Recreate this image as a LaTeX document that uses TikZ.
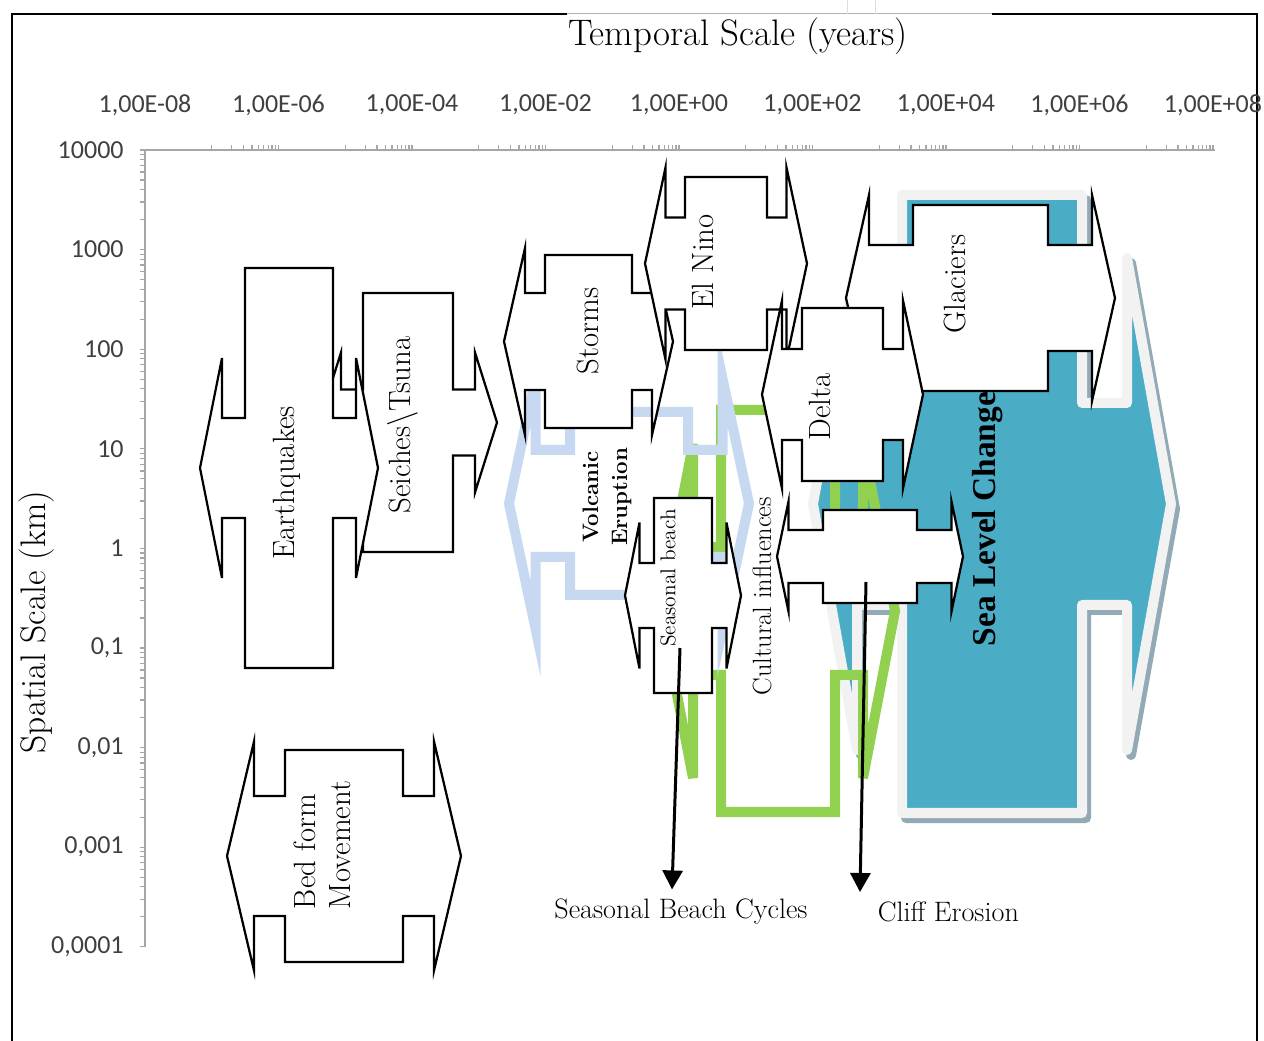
\documentclass[tikz,border=0pt]{standalone}
\usepackage{fontspec}
\usetikzlibrary{arrows.meta,calc}
\newfontfamily\axisfont{Carlito}
\newfontfamily\timesfont{Liberation Serif}
\definecolor{sealevel}{HTML}{4BACC6}
\definecolor{seagrey}{HTML}{F2F2F2}
\definecolor{seashadow}{HTML}{91AAB6}
\definecolor{volcano}{HTML}{C6D9F1}
\definecolor{culture}{HTML}{92D050}
\definecolor{axisgrey}{HTML}{A6A6A6}
\definecolor{ticktext}{HTML}{404040}
% callout with an arrow on each side:
% style, cx, cy, box half width, box half height, arm half height, arm reach, head half height, tip reach
\newcommand{\callout}[9]{%
  \draw[#1] ({#2-#4},{#3-#5}) -- ({#2+#4},{#3-#5}) -- ({#2+#4},{#3-#6}) -- ({#2+#7},{#3-#6})
    -- ({#2+#7},{#3-#8}) -- ({#2+#9},#3) -- ({#2+#7},{#3+#8}) -- ({#2+#7},{#3+#6})
    -- ({#2+#4},{#3+#6}) -- ({#2+#4},{#3+#5}) -- ({#2-#4},{#3+#5}) -- ({#2-#4},{#3+#6})
    -- ({#2-#7},{#3+#6}) -- ({#2-#7},{#3+#8}) -- ({#2-#9},#3) -- ({#2-#7},{#3-#8})
    -- ({#2-#7},{#3-#6}) -- ({#2-#4},{#3-#6}) -- cycle;}

\begin{document}
\begin{tikzpicture}[x=0.2mm, y=-0.2mm,
    frame/.style={line width=0.4mm, black},
    axis/.style={draw=axisgrey, line width=0.25mm},
    ticklbl/.style={font=\axisfont\fontsize{14.8}{17}\selectfont, text=ticktext, inner sep=0pt},
    title/.style={font=\fontsize{21}{24}\selectfont, inner sep=0pt},
    whitebox/.style={draw=black, fill=white, line width=0.45mm},
    seafill/.style={fill=sealevel, draw=seagrey, line width=2mm, line join=round},
    seashade/.style={fill=seashadow, draw=seashadow, line width=2mm, line join=round},
    volcline/.style={draw=volcano, line width=2mm},
    cultline/.style={draw=culture, line width=2mm},
    boxlbl/.style={rotate=90, font=\fontsize{17.5}{20}\selectfont, inner sep=0pt},
    lbl/.style={font=\fontsize{16}{19}\selectfont, inner sep=2pt},
    pointer/.style={line width=0.6mm, -{Triangle[length=3.8mm, width=4mm]}}]
  \useasboundingbox (0,0) rectangle (1264,1041);
  \fill[white] (0,0) rectangle (1264,1041);

  % frame
  \draw[frame] (12,1041) -- (12,14) -- (567,14);
  \draw[gray!60, line width=0.2mm] (567,14) -- (992,14);
  \draw[frame] (992,14) -- (1257,14) -- (1257,1041);
  \draw[gray!25, line width=0.2mm] (847,0) -- (847,14) (875,0) -- (875,14);

  % axes
  \draw[axis] (145,947) -- (145,150) -- (1215,150);
  \draw[axis] (140,150) -- (145,150);
  \foreach \j in {0,...,7}
    \foreach \k in {1,...,9}
      \draw[axis] (140,{150+99.6*(\j+1)-99.6*ln(\k)/ln(10)}) -- ++(5,0);
  \foreach \i in {0,...,7}
    \foreach \k in {1,...,10}
      \draw[axis] ({145+133.5*\i+66.75+66.75*ln(\k)/ln(10)},150) -- ++(0,-5);

  \foreach \lab [count=\i from 0] in {{1,00E-08},{1,00E-06},{1,00E-04},{1,00E-02},{1,00E+00},{1,00E+02},{1,00E+04},{1,00E+06},{1,00E+08}}
    \node[ticklbl] (xt\i) at ({145+133.5*\i},105) {\lab};
  \foreach \lab [count=\i from 0] in {10000,1000,100,10,1,{0,1},{0,01},{0,001},{0,0001}}
    \node[ticklbl, anchor=east] (yt\i) at (124,{150+99.6*\i}) {\lab};

  \node[title] (ttl) at (738,36) {Temporal Scale (years)};
  \node[title, font=\fontsize{20.2}{24}\selectfont, rotate=90] (ytl) at (37,622) {Spatial Scale (km)};

  % sea level change
  \callout{seashade, shift={(4,5)}}{992}{504}{90}{309}{101}{135}{246}{179}
  \callout{seafill}{992}{504}{90}{309}{101}{135}{246}{179}

  % outlined callouts
  \callout{cultline}{778}{611}{57}{201}{64}{85}{167}{117}
  \callout{volcline}{629}{503.5}{59}{91.5}{53.5}{93.5}{125}{120}

  \callout{whitebox}{588.5}{341.5}{43.5}{86.5}{48.5}{63.5}{93.5}{84.5}
  \callout{whitebox}{726}{263.5}{41}{86.5}{46}{60.5}{96}{81}
  \callout{whitebox}{980.5}{298}{67.5}{93}{53}{111.5}{103}{134.5}
  \callout{whitebox}{842.5}{394.5}{40.5}{86.5}{45.5}{60.5}{94}{80.5}
  \callout{whitebox}{870}{556.5}{47}{46.5}{26.5}{81.5}{55}{93}
  \callout{whitebox}{683}{595.5}{29}{97.5}{32.5}{43.5}{73}{58}
  \callout{whitebox}{408}{422.5}{45}{129.5}{33}{67}{70}{89}
  \callout{whitebox}{289}{468}{44}{200}{50}{67}{110}{89}
  \callout{whitebox}{344}{856}{59}{106}{60}{90}{114.5}{117}

  % labels
  \node[boxlbl] (quake) at (287,483) {Earthquakes};
  \node[boxlbl] (seiche) at (403,425) {Seiches\textbackslash Tsuna};
  \node[boxlbl] (storm) at (588,331) {Storms};
  \node[boxlbl] (nino) at (703,262) {El Nino};
  \node[boxlbl] (delta) at (820,407) {Delta};
  \node[boxlbl] (glacier) at (955,284) {Glaciers};
  \node[boxlbl, align=left] (bed) at (322,845) {Bed form\\Movement};
  \node[boxlbl, font=\bfseries\fontsize{12.7}{16.5}\selectfont, align=center] (volc) at (607,497) {Volcanic\\Eruption};
  \node[boxlbl, font=\fontsize{12.2}{14}\selectfont] (beach) at (668,578) {Seasonal beach};
  \node[boxlbl, font=\fontsize{15}{17}\selectfont] (cult) at (762,596) {Cultural influences};
  \node[boxlbl, font=\timesfont\bfseries\fontsize{19}{22}\selectfont] (sea) at (988,519) {Sea Level Change};

  \node[lbl] (sbc) at (681,912) {Seasonal Beach Cycles};
  \node[lbl, anchor=west] (cliff) at (874,912) {Cliff Erosion};

  % pointers
  \coordinate (beachfrom) at (680,648);
  \coordinate (clifffrom) at (866,582);
  \draw[pointer] (beachfrom) -- ($(sbc.north)+(-9,-6)$);
  \draw[pointer] (clifffrom) -- ($(cliff.north west)+(-14,-6)$);
\end{tikzpicture}
\end{document}
